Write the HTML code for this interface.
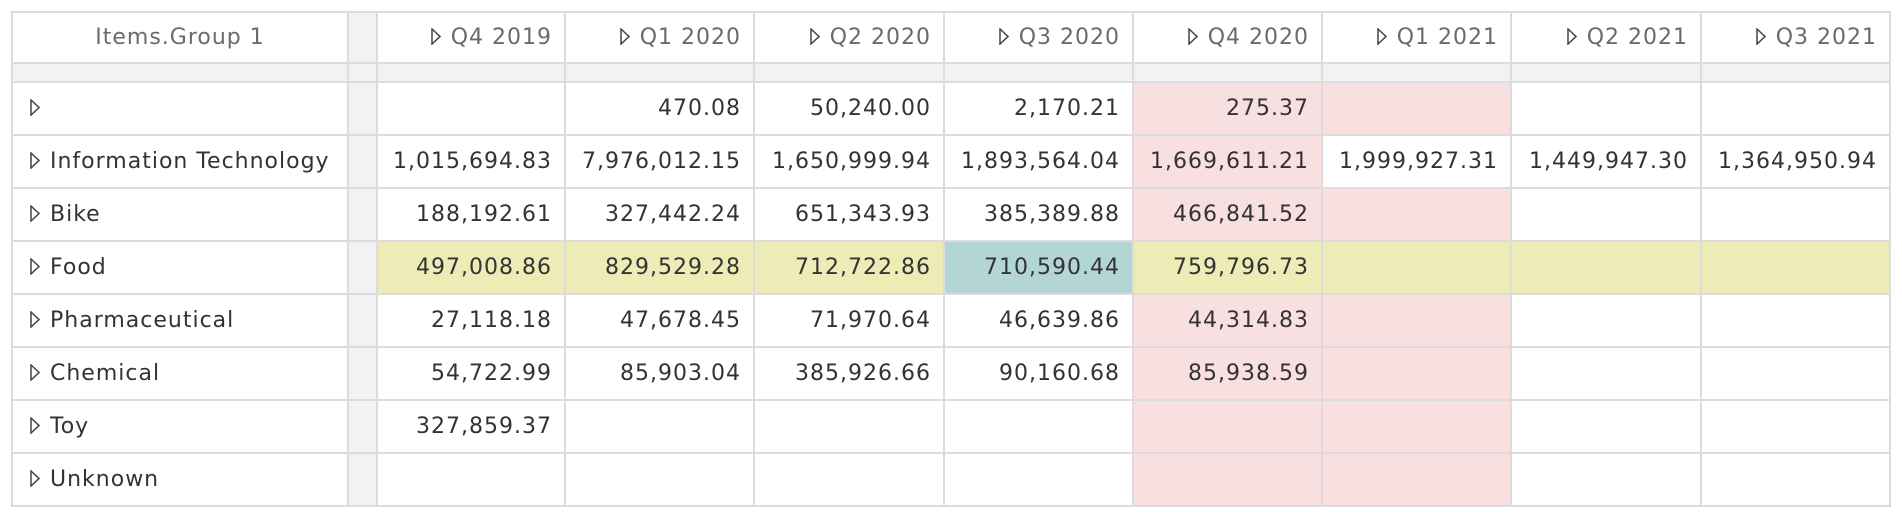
<!DOCTYPE html>
<html><head><meta charset="utf-8"><style>
body{margin:0;background:#fff;width:1902px;height:517px;overflow:hidden}
table{position:absolute;left:11px;top:11px;border-collapse:collapse;table-layout:fixed;font-family:"DejaVu Sans","Liberation Sans",sans-serif;font-size:22px;color:#333}
td{border:2px solid #dcdcdc;padding:0 12px 0 0;text-align:right;white-space:nowrap;overflow:hidden;height:51px;letter-spacing:1px}
tr.h td{height:49px;color:#6a6a6a}
tr.g td{height:17px;background:#f2f1f4}
td.s{background:#f2f1f4;padding:0}
td.l{text-align:left;padding-left:17px}
.p{background:#f8e0e0}.y{background:#eeecb6}.t{background:#b3d5d5}
svg{vertical-align:-1px;margin-right:10px}
</style></head><body>
<table>
<colgroup><col style="width:336px"><col style="width:29px"><col style="width:188px"><col style="width:189px"><col style="width:190px"><col style="width:189px"><col style="width:189px"><col style="width:189px"><col style="width:190px"><col style="width:189px"></colgroup>
<tr class="h"><td style="text-align:center;padding:0">Items.Group 1</td><td class="s"></td>
<td><svg width="10" height="17"><path d="M1 1L9 8.5L1 16Z" fill="none" stroke="#444" stroke-width="1.5"/></svg>Q4 2019</td>
<td><svg width="10" height="17"><path d="M1 1L9 8.5L1 16Z" fill="none" stroke="#444" stroke-width="1.5"/></svg>Q1 2020</td>
<td><svg width="10" height="17"><path d="M1 1L9 8.5L1 16Z" fill="none" stroke="#444" stroke-width="1.5"/></svg>Q2 2020</td>
<td><svg width="10" height="17"><path d="M1 1L9 8.5L1 16Z" fill="none" stroke="#444" stroke-width="1.5"/></svg>Q3 2020</td>
<td><svg width="10" height="17"><path d="M1 1L9 8.5L1 16Z" fill="none" stroke="#444" stroke-width="1.5"/></svg>Q4 2020</td>
<td><svg width="10" height="17"><path d="M1 1L9 8.5L1 16Z" fill="none" stroke="#444" stroke-width="1.5"/></svg>Q1 2021</td>
<td><svg width="10" height="17"><path d="M1 1L9 8.5L1 16Z" fill="none" stroke="#444" stroke-width="1.5"/></svg>Q2 2021</td>
<td><svg width="10" height="17"><path d="M1 1L9 8.5L1 16Z" fill="none" stroke="#444" stroke-width="1.5"/></svg>Q3 2021</td></tr>
<tr class="g"><td></td><td></td><td></td><td></td><td></td><td></td><td></td><td></td><td></td><td></td></tr>
<tr><td class="l"><svg width="10" height="17"><path d="M1 1L9 8.5L1 16Z" fill="none" stroke="#444" stroke-width="1.5"/></svg></td><td class="s"></td><td></td><td>470.08</td><td>50,240.00</td><td>2,170.21</td><td class="p">275.37</td><td class="p"></td><td></td><td></td></tr>
<tr><td class="l"><svg width="10" height="17"><path d="M1 1L9 8.5L1 16Z" fill="none" stroke="#444" stroke-width="1.5"/></svg>Information Technology</td><td class="s"></td><td>1,015,694.83</td><td>7,976,012.15</td><td>1,650,999.94</td><td>1,893,564.04</td><td class="p">1,669,611.21</td><td>1,999,927.31</td><td>1,449,947.30</td><td>1,364,950.94</td></tr>
<tr><td class="l"><svg width="10" height="17"><path d="M1 1L9 8.5L1 16Z" fill="none" stroke="#444" stroke-width="1.5"/></svg>Bike</td><td class="s"></td><td>188,192.61</td><td>327,442.24</td><td>651,343.93</td><td>385,389.88</td><td class="p">466,841.52</td><td class="p"></td><td></td><td></td></tr>
<tr><td class="l"><svg width="10" height="17"><path d="M1 1L9 8.5L1 16Z" fill="none" stroke="#444" stroke-width="1.5"/></svg>Food</td><td class="s"></td><td class="y">497,008.86</td><td class="y">829,529.28</td><td class="y">712,722.86</td><td class="t">710,590.44</td><td class="y">759,796.73</td><td class="y"></td><td class="y"></td><td class="y"></td></tr>
<tr><td class="l"><svg width="10" height="17"><path d="M1 1L9 8.5L1 16Z" fill="none" stroke="#444" stroke-width="1.5"/></svg>Pharmaceutical</td><td class="s"></td><td>27,118.18</td><td>47,678.45</td><td>71,970.64</td><td>46,639.86</td><td class="p">44,314.83</td><td class="p"></td><td></td><td></td></tr>
<tr><td class="l"><svg width="10" height="17"><path d="M1 1L9 8.5L1 16Z" fill="none" stroke="#444" stroke-width="1.5"/></svg>Chemical</td><td class="s"></td><td>54,722.99</td><td>85,903.04</td><td>385,926.66</td><td>90,160.68</td><td class="p">85,938.59</td><td class="p"></td><td></td><td></td></tr>
<tr><td class="l"><svg width="10" height="17"><path d="M1 1L9 8.5L1 16Z" fill="none" stroke="#444" stroke-width="1.5"/></svg>Toy</td><td class="s"></td><td>327,859.37</td><td></td><td></td><td></td><td class="p"></td><td class="p"></td><td></td><td></td></tr>
<tr><td class="l"><svg width="10" height="17"><path d="M1 1L9 8.5L1 16Z" fill="none" stroke="#444" stroke-width="1.5"/></svg>Unknown</td><td class="s"></td><td></td><td></td><td></td><td></td><td class="p"></td><td class="p"></td><td></td><td></td></tr>
</table>
</body></html>
